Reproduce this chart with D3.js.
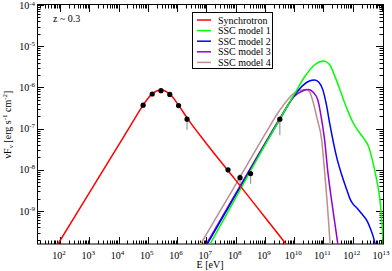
<!DOCTYPE html>
<html>
<head>
<meta charset="utf-8">
<script src="https://cdn.jsdelivr.net/npm/d3@7"></script>
<style>
body { margin: 0; background: #fff; }
text { font-family: "Liberation Serif", "DejaVu Serif", serif; fill: #000; }
</style>
</head>
<body>
<svg width="392" height="271"></svg>
<script>
'use strict';
(() => {

// curves as log10(E/eV) and log10(nuFnu)
var synLogE = [1.8, 3, 4, 4.5, 4.84, 5.15, 5.45, 5.75, 6.05, 6.34, 7, 8, 9, 9.72, 9.85];
var synLogF = [-9.95, -8.56, -7.4, -6.82, -6.43, -6.15, -6.06, -6.16, -6.43, -6.74, -7.36, -8.25, -9.15, -9.8, -9.92];

var ssc1LogE = [7.05, 8, 9, 9.51, 10, 10.4, 10.7, 11.01, 11.2, 11.4, 11.56, 11.7, 11.85, 12.0, 12.2, 12.4, 12.55, 12.7, 12.82, 12.93, 13.0, 13.05];
var ssc1LogF = [-9.9, -8.68, -7.4, -6.77, -6.17, -5.7, -5.45, -5.36, -5.44, -5.75, -6.05, -6.33, -6.6, -6.84, -7.07, -7.26, -7.45, -7.85, -8.25, -8.73, -9.3, -9.9];

var ssc2LogE = [6.95, 8, 9, 9.5, 10, 10.3, 10.5, 10.7, 10.85, 10.98, 11.1, 11.21, 11.45, 11.65, 11.8, 11.91, 12.0, 12.15, 12.3, 12.49, 12.6, 12.7, 12.78];
var ssc2LogF = [-9.9, -8.61, -7.39, -6.79, -6.2, -5.95, -5.85, -5.82, -5.88, -6.06, -6.42, -6.86, -7.69, -8.18, -8.49, -8.71, -8.82, -8.93, -9.06, -9.24, -9.42, -9.62, -9.85];

var ssc3LogE = [6.92, 8, 9, 9.5, 10, 10.3, 10.5, 10.65, 10.81, 10.93, 11.04, 11.15, 11.28, 11.4, 11.5];
var ssc3LogF = [-9.9, -8.58, -7.36, -6.76, -6.22, -6.08, -6.05, -6.12, -6.31, -6.75, -7.28, -8.05, -8.75, -9.35, -9.85];

var ssc4LogE = [6.72, 8, 9, 9.5, 10, 10.2, 10.42, 10.52, 10.63, 10.78, 10.94, 11.04, 11.12, 11.18, 11.23];
var ssc4LogF = [-9.9, -8.36, -7.14, -6.56, -6.14, -6.07, -6.05, -6.1, -6.31, -6.75, -7.28, -8.05, -8.73, -9.3, -9.85];

// observed points and their error bars
var obsLogE = [4.84, 5.15, 5.45, 5.75, 6.05, 6.34, 7.74, 8.15, 8.51, 9.51];
var obsLogF = [-6.43, -6.16, -6.08, -6.17, -6.44, -6.77, -8.0, -8.19, -8.09, -6.77];
var obsLogLo = [-6.43, -6.16, -6.08, -6.17, -6.44, -7.03, -8.08, -8.34, -8.34, -7.16];
var obsLogHi = [-6.43, -6.16, -6.08, -6.17, -6.44, -6.77, -8.0, -8.1, -8.09, -6.77];

var names = ['Synchrotron', 'SSC model 1', 'SSC model 2', 'SSC model 3', 'SSC model 4'];
var colors = ['#ff0000', '#00ff00', '#0000ff', '#9400d3', '#bc8f8f'];
var curvesE = [synLogE, ssc1LogE, ssc2LogE, ssc3LogE, ssc4LogE];
var curvesF = [synLogF, ssc1LogF, ssc2LogF, ssc3LogF, ssc4LogF];

var xDecades = [2, 3, 4, 5, 6, 7, 8, 9, 10, 11, 12, 13];
var yDecades = [-9, -8, -7, -6, -5, -4];

var L = 37, R = 383, T = 5, B = 244;
var pow = v => Math.pow(10, v);

var svg = d3.select('svg');
var x = d3.scaleLog().domain([pow(1.214), pow(13.034)]).range([L, R]);
var y = d3.scaleLog().domain([pow(-9.8), pow(-4)]).range([B, T]);

svg.append('defs').append('clipPath').attr('id', 'clip')
  .append('rect').attr('x', L).attr('y', T).attr('width', R - L).attr('height', B - T);

// ticks, all pointing inward, on the four sides
var minorX = [], minorY = [];
for (var k = 1; k <= 13; k++) {
  for (var m = 2; m <= 9; m++) {
    var v = m * pow(k);
    if (v > x.domain()[0] && v < x.domain()[1]) minorX.push(v);
  }
}
for (var k = -10; k <= -5; k++) {
  for (var m = 2; m <= 9; m++) {
    var v = m * pow(k);
    if (v > y.domain()[0] && v < y.domain()[1]) minorY.push(v);
  }
}
var majorX = xDecades.map(pow), majorY = yDecades.map(pow);

var axes = svg.append('g').attr('stroke', '#000').attr('stroke-width', 1);
function tickX(vals, len) {
  vals.forEach(v => {
    var px = Math.round(x(v)) + 0.5;
    axes.append('line').attr('x1', px).attr('x2', px).attr('y1', B).attr('y2', B - len);
    axes.append('line').attr('x1', px).attr('x2', px).attr('y1', T).attr('y2', T + len);
  });
}
function tickY(vals, len) {
  vals.forEach(v => {
    var py = Math.round(y(v)) + 0.5;
    axes.append('line').attr('y1', py).attr('y2', py).attr('x1', L).attr('x2', L + len);
    axes.append('line').attr('y1', py).attr('y2', py).attr('x1', R).attr('x2', R - len);
  });
}
tickX(minorX, 3.5);
tickX(majorX, 7);
tickY(minorY, 3.5);
tickY(majorY, 7);
axes.append('rect').attr('x', L + 0.5).attr('y', T - 0.5).attr('width', R - L).attr('height', B - T + 0.5)
  .attr('fill', 'none');

// tick labels
svg.append('g').selectAll('text').data(xDecades).enter().append('text')
  .attr('x', d => x(pow(d)) - 1).attr('y', 258.5).attr('text-anchor', 'middle').attr('font-size', 10)
  .each(function (d) {
    var t = d3.select(this);
    t.append('tspan').text('10');
    t.append('tspan').attr('font-size', 7).attr('dy', -4).text(d);
  });
svg.append('g').selectAll('text').data(yDecades).enter().append('text')
  .attr('x', 35).attr('y', d => y(pow(d)) + 3.5).attr('text-anchor', 'end').attr('font-size', 10)
  .each(function (d) {
    var t = d3.select(this);
    t.append('tspan').text('10');
    t.append('tspan').attr('font-size', 7).attr('dy', d === -4 ? -3 : -4).text(d);
  });

// axis titles
svg.append('text').attr('x', (L + R) / 2).attr('y', 268).attr('text-anchor', 'middle')
  .attr('font-size', 10).text('E [eV]');
var yt = svg.append('text').attr('transform', `translate(11, ${(T + B) / 2}) rotate(-90)`)
  .attr('text-anchor', 'middle').attr('font-size', 10);
yt.append('tspan').text('\u03bdF');
yt.append('tspan').attr('font-size', 7).attr('dy', 2).text('\u03bd');
yt.append('tspan').attr('dy', -2).text(' [erg s');
yt.append('tspan').attr('font-size', 7).attr('dy', -4).text('-1');
yt.append('tspan').attr('dy', 4).text(' cm');
yt.append('tspan').attr('font-size', 7).attr('dy', -4).text('-2');
yt.append('tspan').attr('dy', 4).text(']');

svg.append('text').attr('x', 53).attr('y', 22).attr('font-size', 10).text('z ~ 0.3');

// model curves
var line = d3.line().x(d => x(pow(d[0]))).y(d => y(pow(d[1]))).curve(d3.curveMonotoneX);
var plot = svg.append('g').attr('clip-path', 'url(#clip)');
for (var i = curvesE.length - 1; i >= 0; i--) {
  var pts = curvesE[i].map((e, j) => [e, curvesF[i][j]]);
  plot.append('path').attr('d', line(pts)).attr('fill', 'none')
    .attr('stroke', colors[i]).attr('stroke-width', 1.5);
}

// observations
var obs = obsLogE.map((e, j) => ({e: e, f: obsLogF[j], lo: obsLogLo[j], hi: obsLogHi[j]}));
plot.selectAll('line.err').data(obs.filter(d => d.lo < d.hi - 0.01 || d.lo < d.f - 0.01)).enter()
  .append('line').attr('class', 'err')
  .attr('x1', d => x(pow(d.e))).attr('x2', d => x(pow(d.e)))
  .attr('y1', d => y(pow(d.hi))).attr('y2', d => y(pow(d.lo)))
  .attr('stroke', '#999').attr('stroke-width', 1.2);
plot.selectAll('circle').data(obs).enter().append('circle')
  .attr('cx', d => x(pow(d.e))).attr('cy', d => y(pow(d.f))).attr('r', 2.6).attr('fill', '#000');

// legend
var lg = svg.append('g');
lg.append('rect').attr('x', 192.5).attr('y', 12.5).attr('width', 80).attr('height', 56)
  .attr('fill', '#fff').attr('stroke', '#000');
names.forEach((n, i) => {
  var ly = 20 + i * 10.6;
  lg.append('line').attr('x1', 197).attr('x2', 211).attr('y1', ly).attr('y2', ly)
    .attr('stroke', colors[i]).attr('stroke-width', 1.5);
  lg.append('text').attr('x', 218).attr('y', ly + 3.5).attr('font-size', 10).text(n);
});

})();
</script>
</body>
</html>
